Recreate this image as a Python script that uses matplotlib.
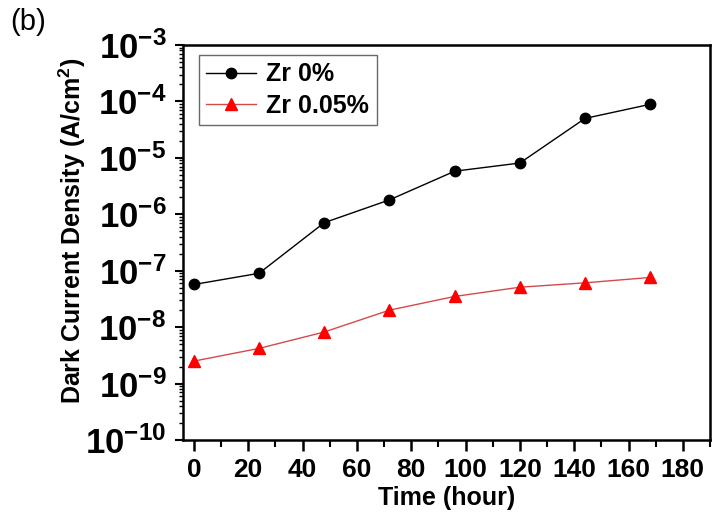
import math
import matplotlib
matplotlib.use("Agg")
import matplotlib.pyplot as plt
from matplotlib.ticker import FixedLocator, LogLocator, FuncFormatter, NullFormatter

plt.rcParams['font.family'] = ['Liberation Sans', 'DejaVu Sans']
plt.rcParams['mathtext.fontset'] = 'custom'
plt.rcParams['mathtext.rm'] = 'Liberation Sans'
plt.rcParams['mathtext.bf'] = 'Liberation Sans:bold'
plt.rcParams['mathtext.it'] = 'Liberation Sans:italic'

time_h = [0, 24, 48, 72, 96, 120, 144, 168]
zr0 = [5.7e-8, 9.0e-8, 7.1e-7, 1.8e-6, 5.8e-6, 8.1e-6, 5.0e-5, 8.9e-5]
zr005 = [2.5e-9, 4.2e-9, 8.2e-9, 2.0e-8, 3.5e-8, 5.1e-8, 6.1e-8, 7.6e-8]
labels = ["Zr 0%", "Zr 0.05%"]
x_ticks = [0, 20, 40, 60, 80, 100, 120, 140, 160, 180]

fig = plt.figure(figsize=(7.14, 5.17), dpi=100)
ax = fig.add_axes([183/714, 1 - 440/517, (710 - 183)/714, (440 - 45)/517])

ax.plot(time_h, zr0, color='black', lw=1.0, marker='o', ms=7.5,
        mfc='black', mec='black', label=labels[0])
ax.plot(time_h, zr005, color='#d44a4a', lw=1.0, marker='^', ms=8.5,
        mfc='red', mec='red', label=labels[1])

ax.set_yscale('log')
ax.set_ylim(1e-10, 1e-3)
ax.set_xlim(-4, 190)

ax.xaxis.set_major_locator(FixedLocator(x_ticks))
ax.xaxis.set_minor_locator(FixedLocator([v + 10 for v in x_ticks]))
ax.yaxis.set_major_locator(LogLocator(base=10, numticks=20))
ax.yaxis.set_minor_locator(LogLocator(base=10, subs=range(2, 10), numticks=20))
ax.yaxis.set_minor_formatter(NullFormatter())
ax.yaxis.set_major_formatter(FuncFormatter(
    lambda v, p: r'$\mathbf{10^{%d}}$' % round(math.log10(v))))

for s in ax.spines.values():
    s.set_linewidth(1.8)

ax.tick_params(axis='both', which='both', direction='out', top=False, right=False)
ax.tick_params(axis='x', which='major', length=8, width=1.8, labelsize=19, pad=5)
ax.tick_params(axis='x', which='minor', length=5, width=1.5)
ax.tick_params(axis='y', which='major', length=6, width=1.5, labelsize=25, pad=6)
ax.tick_params(axis='y', which='minor', length=3, width=1.0)
for t in ax.get_xticklabels():
    t.set_fontweight('bold')

ax.set_xlabel('Time (hour)', fontsize=18, fontweight='bold', labelpad=3)
ax.set_ylabel(r'Dark Current Density (A/cm$^\mathbf{2}$)', fontsize=18,
              fontweight='bold')
ax.yaxis.label.set_va('center')
ax.yaxis.set_label_coords((72 - 183) / 527, 0.53)

leg = ax.legend(loc='upper left', bbox_to_anchor=(0.03, 0.975),
                prop={'weight': 'bold', 'size': 18},
                frameon=True, fancybox=False, edgecolor='#444444', handlelength=2.0,
                handletextpad=0.4, borderpad=0.3, labelspacing=0.3, borderaxespad=0)
leg.get_frame().set_linewidth(1.0)

fig.text(10/714, 1 - 22/517, '(b)', fontsize=21, va='center', ha='left')

fig.savefig('out.png', dpi=100)
